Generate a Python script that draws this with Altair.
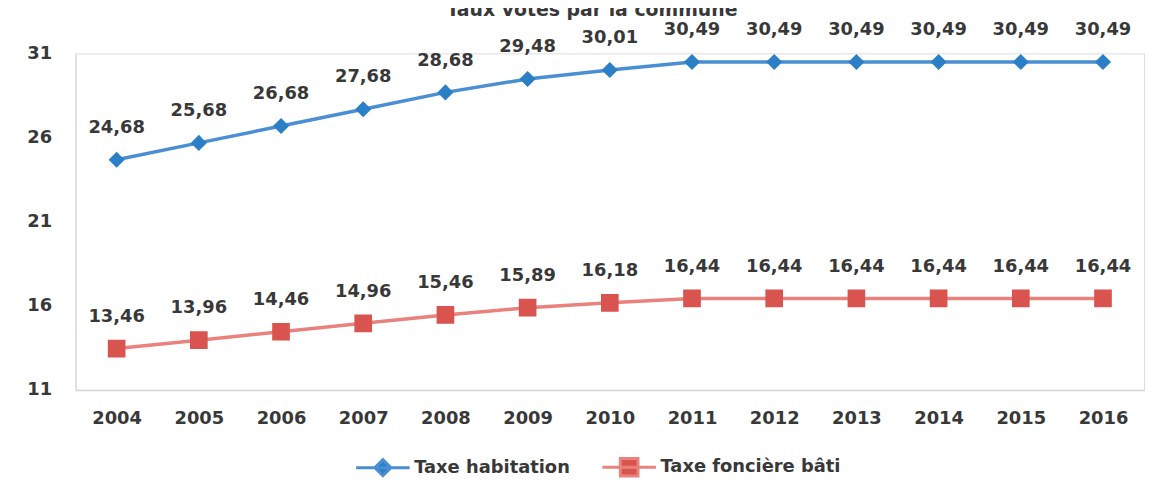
import altair as alt
import pandas as pd

years = [str(y) for y in range(2004, 2017)]
habitation = [24.68, 25.68, 26.68, 27.68, 28.68, 29.48, 30.01, 30.49, 30.49, 30.49, 30.49, 30.49, 30.49]
fonciere = [13.46, 13.96, 14.46, 14.96, 15.46, 15.89, 16.18, 16.44, 16.44, 16.44, 16.44, 16.44, 16.44]
series_names = ["Taxe habitation", "Taxe foncière bâti"]
y_ticks = [11, 16, 21, 26, 31]
title_text = "Taux votés par la commune"

line_colors = ["#4a8fd4", "#e9827d"]
marker_colors = ["#2b7fc6", "#d9534f"]
marker_paths = [
    "M-1,0H1M0,-0.3L0.3,0L0,0.3L-0.3,0Z",
    "M-1,0H1M-0.33,-0.33H0.33V0.33H-0.33Z",
]

rows = []
for name, vals in zip(series_names, [habitation, fonciere]):
    for yr, v in zip(years, vals):
        rows.append({"annee": yr, "taux": v, "serie": name,
                     "label": f"{v:.2f}".replace(".", ",")})
df = pd.DataFrame(rows)

FONT = "DejaVu Sans"
TXT = "#383838"
FS = 18

leg = alt.Legend(
    title=None, orient="none", legendX=281, legendY=388, direction="horizontal",
    symbolSize=2900, symbolStrokeWidth=3, labelFont=FONT, labelFontSize=FS,
    labelFontWeight="bold", labelColor=TXT, labelOffset=3, columnPadding=26,
    padding=0, labelLimit=400,
)

x = alt.X("annee:O", sort=years, title=None,
          scale=alt.Scale(type="point", padding=0.5),
          axis=alt.Axis(labelAngle=0, labelFont=FONT, labelFontSize=FS, labelFontWeight="bold",
                        labelColor=TXT, ticks=False, labelPadding=20, domainColor="#d4d4d4",
                        domainWidth=1.5))
y = alt.Y("taux:Q", title=None,
          scale=alt.Scale(domain=[11, 31], nice=False, zero=False),
          axis=alt.Axis(values=y_ticks, grid=False, ticks=False, labelFont=FONT, labelFontSize=FS,
                        labelFontWeight="bold", labelColor=TXT, labelPadding=24,
                        domainColor="#dcdcdc", domainWidth=1.5))

base = alt.Chart(df)

lines = base.mark_line(strokeWidth=3.5).encode(
    x=x, y=y,
    stroke=alt.Stroke("serie:N", sort=series_names,
                      scale=alt.Scale(domain=series_names, range=line_colors), legend=leg),
    detail="serie:N",
)

points = base.mark_point(filled=True, size=2900, opacity=1, strokeWidth=0).encode(
    x=x, y=y,
    fill=alt.Fill("serie:N", sort=series_names,
                  scale=alt.Scale(domain=series_names, range=marker_colors), legend=leg),
    shape=alt.Shape("serie:N", sort=series_names,
                    scale=alt.Scale(domain=series_names, range=marker_paths), legend=leg),
)

labels = base.mark_text(dy=-32, font=FONT, fontSize=FS, fontWeight="bold", color=TXT).encode(
    x=x, y=y, text="label:N",
)

title_layer = alt.Chart(pd.DataFrame({"t": [title_text]})).mark_text(
    font=FONT, fontSize=19, fontWeight="bold", color=TXT, baseline="bottom", align="center"
).encode(text="t:N", x=alt.value(520), y=alt.value(-34))

chart = alt.layer(lines, points, labels, title_layer).properties(
    width=1076, height=339,
    padding={"left": 68, "top": 44, "right": 14, "bottom": 94},
    autosize="none",
).configure_view(stroke=None).configure(background="white")

chart.save("out.html", embed_options={"renderer": "svg", "actions": False})
